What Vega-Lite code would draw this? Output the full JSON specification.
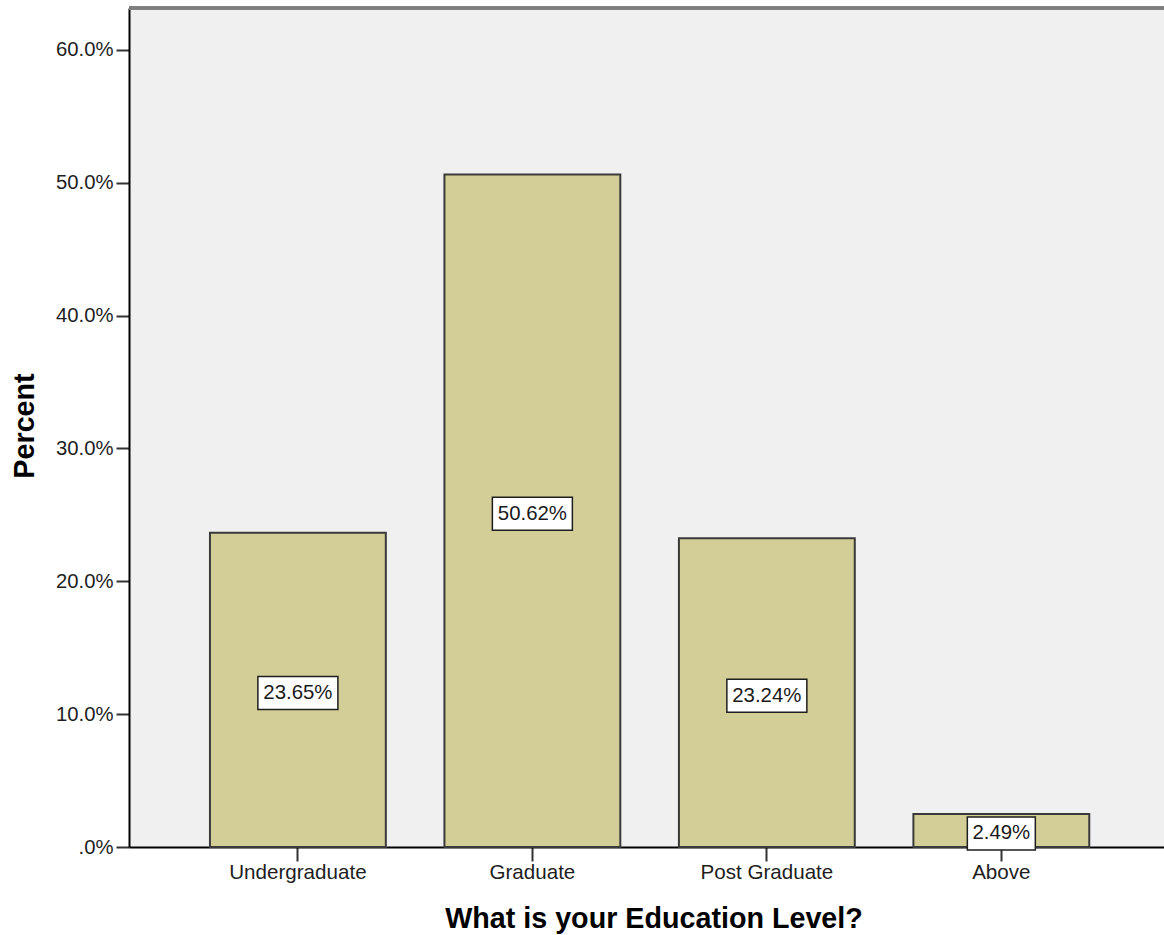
{
  "$schema": "https://vega.github.io/schema/vega-lite/v6.json",
  "autosize": {"type": "none"},
  "padding": {"left": 129, "top": 8, "right": 0, "bottom": 88},
  "width": 1035,
  "height": 839,
  "background": "#ffffff",
  "config": {
    "view": {"stroke": null, "fill": "#F0F0F0"},
    "font": "Liberation Sans"
  },
  "data": {
    "values": [
      {"level": "Undergraduate", "share": 0.2365},
      {"level": "Graduate", "share": 0.5062},
      {"level": "Post Graduate", "share": 0.2324},
      {"level": "Above", "share": 0.0249}
    ]
  },
  "transform": [
    {"calculate": "datum.share / 2", "as": "mid"}
  ],
  "encoding": {
    "x": {
      "field": "level",
      "type": "nominal",
      "sort": ["Undergraduate", "Graduate", "Post Graduate", "Above"],
      "scale": {"paddingInner": 0.25, "paddingOuter": 0.332, "align": 0.52},
      "axis": {
        "title": "What is your Education Level?",
        "titleFont": "Liberation Sans",
        "titleFontSize": 28.7,
        "titleFontWeight": "bold",
        "titleColor": "#000000",
        "titleX": 524.5,
        "titleY": 80,
        "titleBaseline": "alphabetic",
        "titleAlign": "center",
        "labelAngle": 0,
        "labelFontSize": 20.6,
        "labelColor": "#1e1e1e",
        "labelPadding": 1,
        "tickSize": 14,
        "tickWidth": 2,
        "tickColor": "#333333",
        "domainColor": "#000000",
        "domainWidth": 2
      }
    }
  },
  "layer": [
    {
      "mark": {"type": "bar", "fill": "#D3CE98", "stroke": "#3a3a3a", "strokeWidth": 2},
      "encoding": {
        "y": {
          "field": "share",
          "type": "quantitative",
          "scale": {"domain": [0, 0.6316], "nice": false, "zero": true},
          "axis": {
            "title": "Percent",
            "titleFont": "Liberation Sans",
            "titleFontSize": 28.7,
            "titleFontWeight": "bold",
            "titleColor": "#000000",
            "titleX": -96,
            "titleY": 417.5,
            "titleAngle": -90,
            "titleBaseline": "alphabetic",
            "titleAlign": "center",
            "values": [0, 0.1, 0.2, 0.3, 0.4, 0.5, 0.6],
            "labelExpr": "datum.value == 0 ? '.0%' : format(datum.value, '.1%')",
            "labelFontSize": 20.3,
            "labelColor": "#1e1e1e",
            "labelPadding": 3,
            "tickSize": 13,
            "tickWidth": 2,
            "tickColor": "#333333",
            "domainColor": "#000000",
            "domainWidth": 2,
            "grid": false
          }
        }
      }
    },
    {
      "mark": {"type": "rule", "stroke": "#7d7d7d", "strokeWidth": 3},
      "encoding": {"y": {"datum": 0.6316}, "x": null}
    },
    {
      "mark": {"type": "point", "filled": true, "fill": "#ffffff", "stroke": "#1e1e1e", "strokeWidth": 1.5, "opacity": 1, "size": 6400, "yOffset": 3},
      "encoding": {
        "y": {"field": "mid", "type": "quantitative"},
        "shape": {
          "field": "level",
          "type": "nominal",
          "scale": {
            "domain": ["Undergraduate", "Graduate", "Post Graduate", "Above"],
            "range": [
              "M-1,-0.4125H1V0.4125H-1Z",
              "M-1,-0.4125H1V0.4125H-1Z",
              "M-1,-0.4125H1V0.4125H-1Z",
              "M-0.85,-0.4125H0.85V0.4125H-0.85Z"
            ]
          },
          "legend": null
        }
      }
    },
    {
      "mark": {"type": "text", "fontSize": 20.4, "color": "#1a1a1a", "baseline": "middle", "align": "center", "yOffset": 3},
      "encoding": {
        "y": {"field": "mid", "type": "quantitative"},
        "text": {"field": "share", "type": "quantitative", "format": ".2%"}
      }
    }
  ]
}
